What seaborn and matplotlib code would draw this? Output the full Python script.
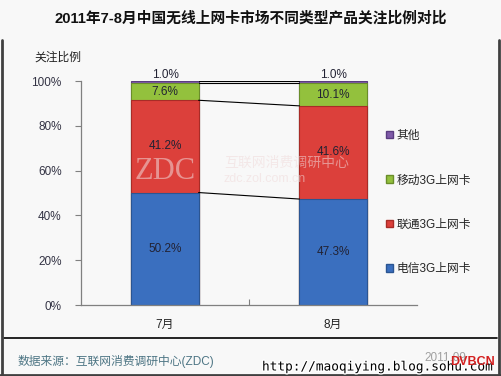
import numpy as np
import pandas as pd
import matplotlib
matplotlib.use('Agg')
import matplotlib.pyplot as plt
import matplotlib.patheffects as pe
from matplotlib.patches import Patch
from matplotlib.lines import Line2D
import seaborn as sns

# data
months = ['7月', '8月']
series = ['电信3G上网卡', '联通3G上网卡', '移动3G上网卡', '其他']
telecom = [50.2, 47.3]
unicom = [41.2, 41.6]
mobile = [7.6, 10.1]
other = [1.0, 1.0]

colors = {'电信3G上网卡': '#3a6fbf', '联通3G上网卡': '#dc403b',
          '移动3G上网卡': '#93c13d', '其他': '#7f5aa8'}
edges = {'电信3G上网卡': '#2b5592', '联通3G上网卡': '#a82c27',
         '移动3G上网卡': '#6a8d2a', '其他': '#5a3c80'}

sns.set_theme(style='white')
plt.rcParams['font.family'] = ['Liberation Sans', 'Noto Sans CJK SC', 'DejaVu Sans']

df = pd.DataFrame({'月份': months, '电信3G上网卡': telecom, '联通3G上网卡': unicom,
                   '移动3G上网卡': mobile, '其他': other})
cum = df[series].cumsum(axis=1)

fig = plt.figure(figsize=(5.01, 3.76), dpi=100, facecolor='#f8f8f8')
ax = fig.add_axes([81 / 501, 1 - 305 / 376, 336 / 501, 224 / 376])
ax.set_facecolor('#f8f8f8')

# stacked bars: draw cumulative totals from the top series down
for s in series[::-1]:
    sns.barplot(x=df['月份'], y=cum[s], ax=ax, color=colors[s], width=0.4,
                edgecolor=edges[s], linewidth=0.8, saturation=1)

# series lines between the two bars
for s in series:
    ax.plot([0.2, 0.8], [cum[s][0], cum[s][1]], color='black', lw=0.8, zorder=3)

# value labels
for i in range(len(months)):
    bottom = 0
    for s in series[:-1]:
        v = df[s][i]
        ax.text(i, bottom + v / 2, f'{v:.1f}%', ha='center', va='center',
                fontsize=8.5, color='#222233')
        bottom += v
    ax.text(i, 100, f'{df["其他"][i]:.1f}%', ha='center', va='bottom',
            fontsize=8.5, color='#222233')

ax.set_xlim(-0.5, 1.5)
ax.set_ylim(0, 100)
ax.set_yticks([0, 20, 40, 60, 80, 100])
ax.set_yticklabels(['0%', '20%', '40%', '60%', '80%', '100%'])
ax.set_xlabel('')
ax.set_ylabel('')
ax.tick_params(axis='y', left=True, length=4, width=0.8, color='#808080',
               labelsize=8.5, labelcolor='#333344', pad=10)
ax.tick_params(axis='x', bottom=False, labelsize=8.5, labelcolor='#222222', pad=4)
ax.set_xticks([0.5], minor=True)
ax.tick_params(axis='x', which='minor', bottom=True, direction='in', length=4,
               color='#808080', width=0.8)
for sp in ['top', 'right']:
    ax.spines[sp].set_visible(False)
for sp in ['left', 'bottom']:
    ax.spines[sp].set_color('#808080')
    ax.spines[sp].set_linewidth(0.9)

# legend on the right
handles = [Patch(facecolor=colors[s], edgecolor=edges[s], label=s) for s in series[::-1]]
fig.legend(handles=handles, loc='upper left', bbox_to_anchor=(380 / 501, 1 - 124 / 376),
           frameon=False, fontsize=8.5, handlelength=0.6, handleheight=0.6,
           handletextpad=0.3, labelspacing=2.75, borderpad=0)

# titles and notes
fig.text(251 / 501, 1 - 18 / 376, '2011年7-8月中国无线上网卡市场不同类型产品关注比例对比',
         ha='center', va='center', fontsize=10.6, fontweight='bold', color='#111111')
fig.text(58 / 501, 1 - 58 / 376, '关注比例', ha='center', va='center',
         fontsize=8.5, color='#222222')
fig.text(18 / 501, 1 - 362 / 376, '数据来源：互联网消费调研中心(ZDC)', ha='left',
         va='center', fontsize=8.5, color='#4d7584')
fig.text(424 / 501, 1 - 358 / 376, '2011.09', ha='left', va='center',
         fontsize=8.5, color='#a0a0a0')

# watermarks
fig.text(135 / 501, 1 - 172 / 376, 'ZDC', ha='left', va='center', fontsize=22,
         family='Liberation Serif', color='#f0dada', alpha=0.55)
fig.text(224 / 501, 1 - 163 / 376, '互联网消费调研中心', ha='left', va='center',
         fontsize=10, color='#f0dada', alpha=0.55)
fig.text(224 / 501, 1 - 179 / 376, 'zdc.zol.com.cn', ha='left', va='center',
         fontsize=9, color='#f0dada', alpha=0.55)
fig.text(262 / 501, 1 - 367 / 376, 'http://maoqiying.blog.sohu.com', ha='left',
         va='center', fontsize=9.2, family='DejaVu Sans Mono', color='black',
         path_effects=[pe.withStroke(linewidth=2, foreground='white')])
fig.text(495 / 501, 1 - 362 / 376, 'DVBCN', ha='right', va='center', fontsize=9,
         fontweight='bold', color='#d42020')

# frame and separator line
fig.add_artist(Line2D([4 / 501, 497 / 501], [1 - 338 / 376, 1 - 338 / 376],
                      color='black', lw=1.2))
fig.add_artist(Line2D([1.5 / 501, 1.5 / 501], [1 - 40 / 376, 0.002], color='#404040', lw=2))
fig.add_artist(Line2D([498.5 / 501, 498.5 / 501], [1 - 40 / 376, 0.002], color='#404040', lw=2))
fig.add_artist(Line2D([0, 1], [0.003, 0.003], color='#404040', lw=2))

fig.savefig('out.png', dpi=100, facecolor=fig.get_facecolor())
